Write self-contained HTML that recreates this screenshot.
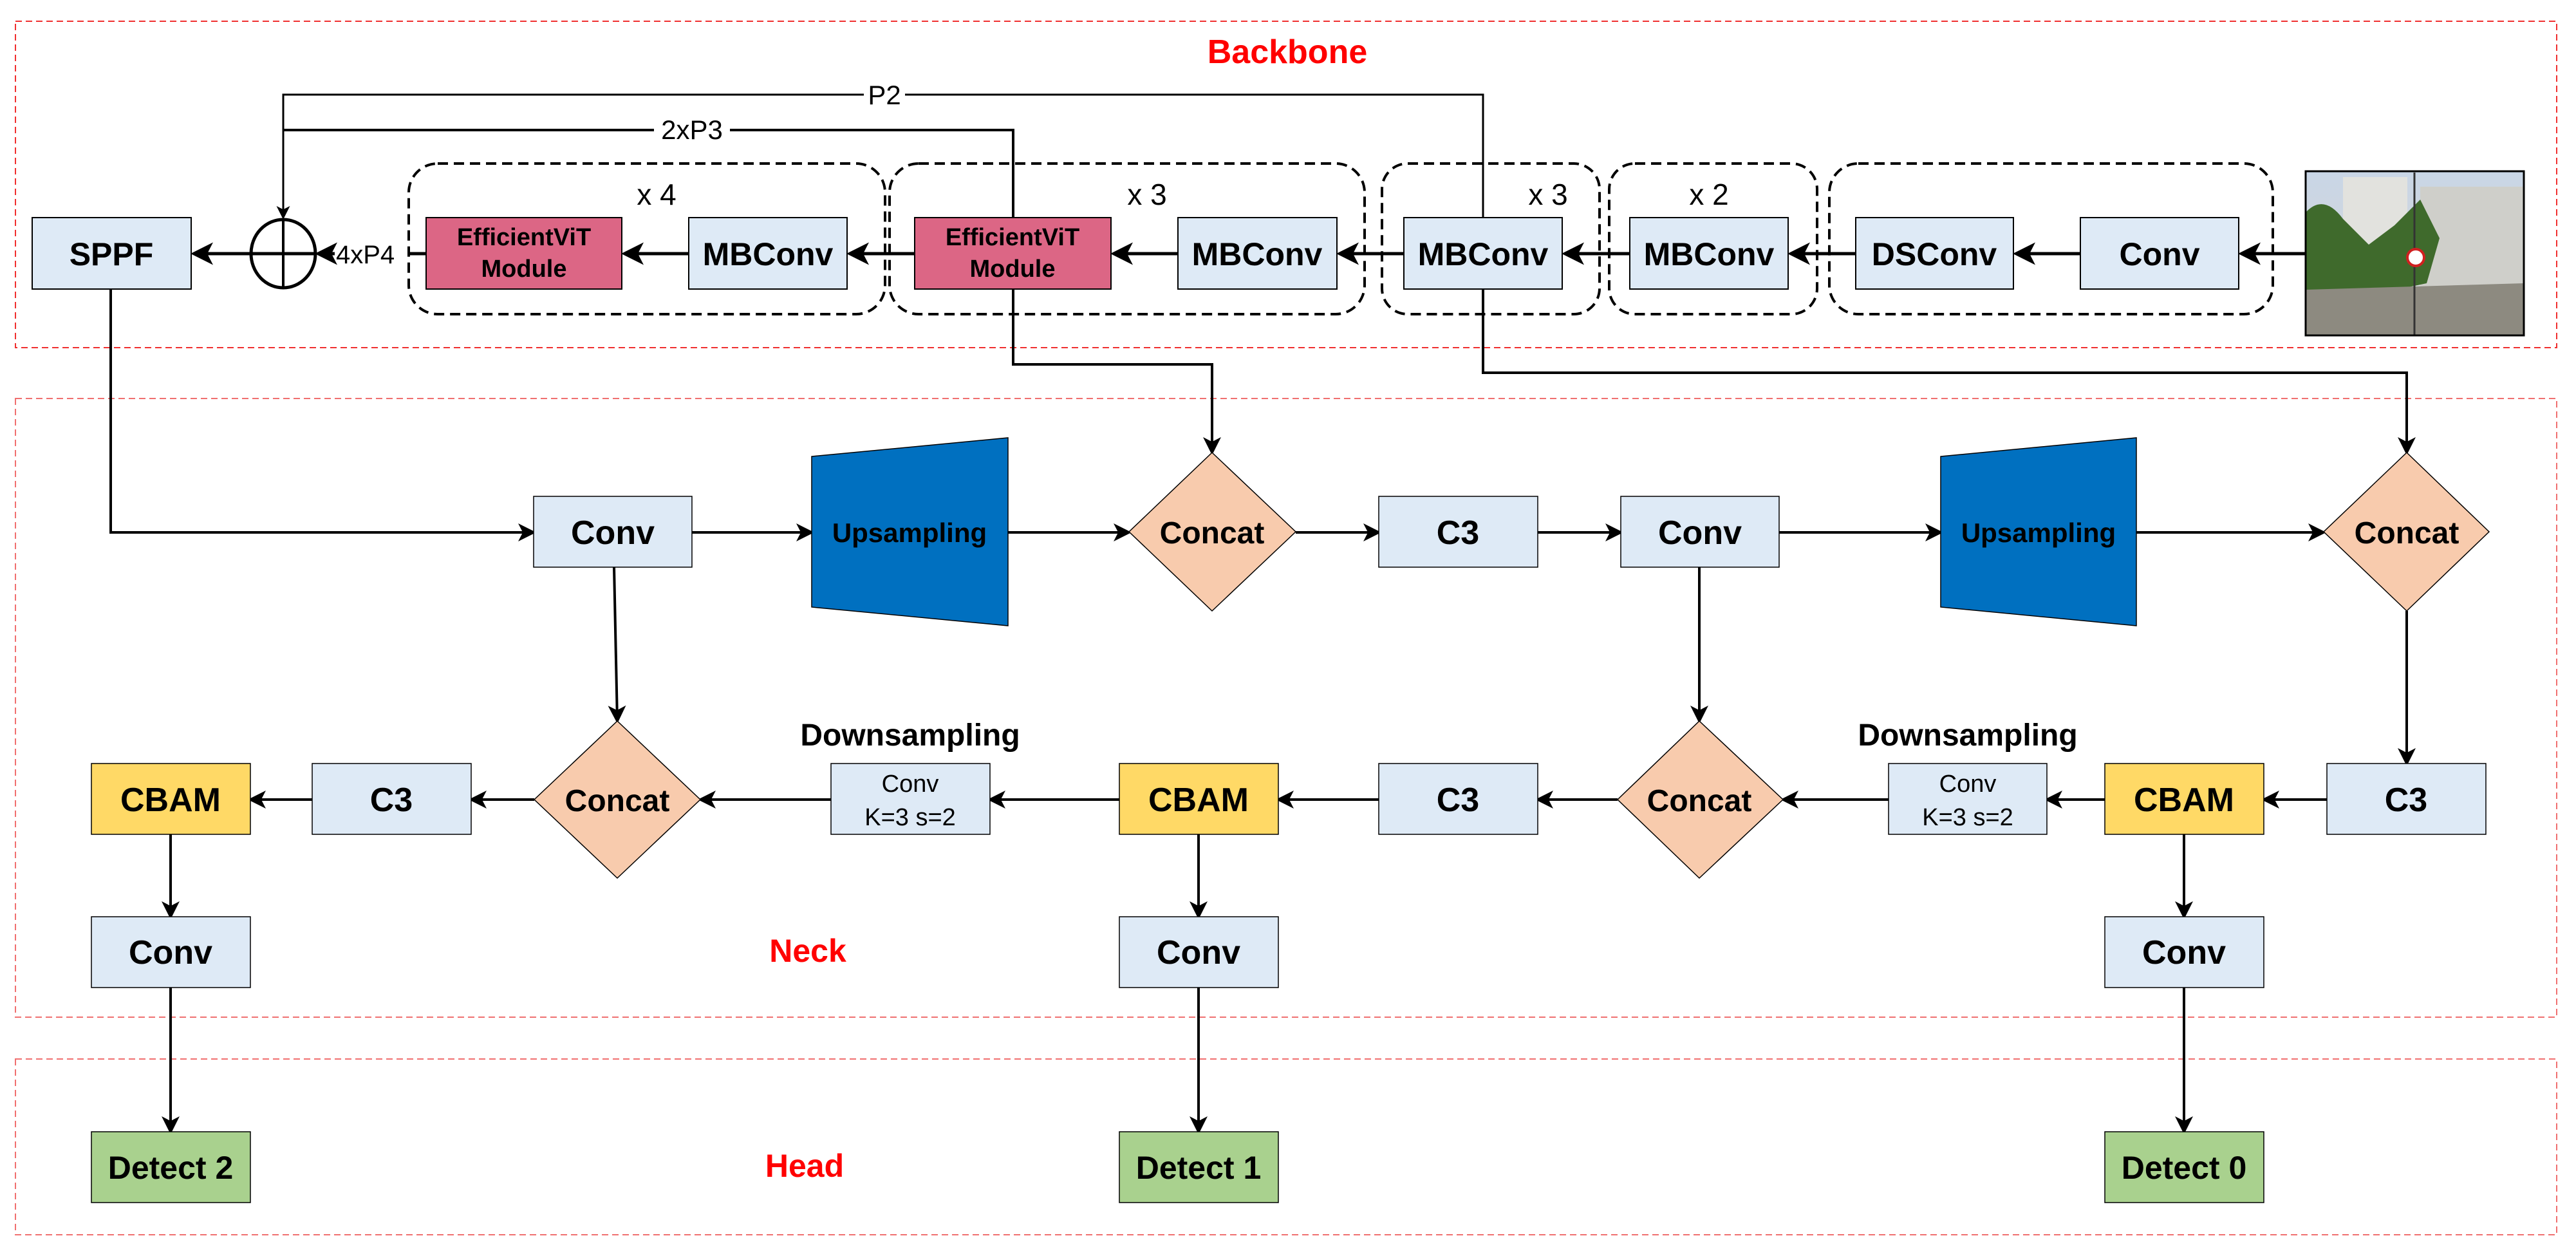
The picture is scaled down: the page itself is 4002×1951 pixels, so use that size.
<!DOCTYPE html>
<html><head><meta charset="utf-8"><style>
html,body{margin:0;padding:0;background:#fff;}
svg{display:block;}
text{font-family:"Liberation Sans",sans-serif;}
.b{font-weight:bold;}
</style></head><body>
<svg width="4002" height="1951" viewBox="0 0 4002 1951" xmlns="http://www.w3.org/2000/svg">
<defs>
<marker id="a" markerWidth="7" markerHeight="7" refX="6" refY="3.5" orient="auto" markerUnits="strokeWidth">
<path d="M0,0 L7,3.5 L0,7 L1.8,3.5 Z" fill="#000"/>
</marker>
<linearGradient id="sky" x1="0" y1="0" x2="0" y2="1"><stop offset="0" stop-color="#c9d6e6"/><stop offset="1" stop-color="#d8d8d4"/></linearGradient>
</defs>

<rect x="24" y="33" width="3948" height="507" fill="none" stroke="#f03030" stroke-width="2" stroke-dasharray="10,6"/>
<rect x="24" y="619" width="3948" height="961" fill="none" stroke="#f07070" stroke-width="2" stroke-dasharray="10,6"/>
<rect x="24" y="1645" width="3948" height="273" fill="none" stroke="#f07070" stroke-width="2" stroke-dasharray="10,6"/>
<text x="2000" y="98" font-size="52" fill="#ff0000" class="b" text-anchor="middle">Backbone</text>
<text x="1255" y="1494" font-size="50" fill="#ff0000" class="b" text-anchor="middle">Neck</text>
<text x="1250" y="1828" font-size="50" fill="#ff0000" class="b" text-anchor="middle">Head</text>

<g fill="none" stroke="#000" stroke-width="4" stroke-dasharray="16,9">
<rect x="635" y="254" width="740" height="234" rx="45"/>
<rect x="1382" y="254" width="738" height="234" rx="45"/>
<rect x="2147" y="254" width="338" height="234" rx="40"/>
<rect x="2500" y="254" width="323" height="234" rx="40"/>
<rect x="2842" y="254" width="689" height="234" rx="45"/>
</g>
<text x="1020" y="318" font-size="46" text-anchor="middle">x 4</text>
<text x="1782" y="318" font-size="46" text-anchor="middle">x 3</text>
<text x="2405" y="318" font-size="46" text-anchor="middle">x 3</text>
<text x="2655" y="318" font-size="46" text-anchor="middle">x 2</text>

<g fill="none" stroke="#000" stroke-width="4">
<polyline points="2304,338 2304,147 440,147 440,338" marker-end="url(#a)" stroke-width="3"/>
<polyline points="1574,338 1574,202 440,202"/>
<line x1="3582" y1="394" x2="3482" y2="394" stroke-width="5" marker-end="url(#a)"/>
<line x1="3232" y1="394" x2="3132" y2="394" stroke-width="5" marker-end="url(#a)"/>
<line x1="2883" y1="394" x2="2782" y2="394" stroke-width="5" marker-end="url(#a)"/>
<line x1="2532" y1="394" x2="2431" y2="394" stroke-width="5" marker-end="url(#a)"/>
<line x1="2181" y1="394" x2="2081" y2="394" stroke-width="5" marker-end="url(#a)"/>
<line x1="1830" y1="394" x2="1730" y2="394" stroke-width="5" marker-end="url(#a)"/>
<line x1="1421" y1="394" x2="1320" y2="394" stroke-width="5" marker-end="url(#a)"/>
<line x1="1070" y1="394" x2="970" y2="394" stroke-width="5" marker-end="url(#a)"/>
<line x1="662" y1="394" x2="636" y2="394" stroke-width="5"/>
<line x1="520" y1="394" x2="494" y2="394" stroke-width="5" marker-end="url(#a)"/>
<line x1="440" y1="394" x2="301" y2="394" stroke-width="5" marker-end="url(#a)"/>
<polyline points="1574,449 1574,566 1883,566 1883,703" marker-end="url(#a)"/>
<polyline points="2304,449 2304,579 3739,579 3739,703" marker-end="url(#a)"/>
<polyline points="172,449 172,827 829,827" marker-end="url(#a)"/>
</g>
<rect x="1342" y="130" width="64" height="34" fill="#fff"/>
<text x="1374" y="162" font-size="42" text-anchor="middle">P2</text>
<rect x="1016" y="184" width="118" height="34" fill="#fff"/>
<text x="1075" y="216" font-size="42" text-anchor="middle">2xP3</text>
<text x="522" y="409" font-size="40">4xP4</text>
<ellipse cx="440" cy="394" rx="50" ry="53" fill="#fff" stroke="#000" stroke-width="5"/>
<line x1="390" y1="394" x2="490" y2="394" stroke="#000" stroke-width="5"/>
<line x1="440" y1="341" x2="440" y2="447" stroke="#000" stroke-width="4"/>

<g stroke="#000" stroke-width="2">
<rect x="50" y="338" width="247" height="111" fill="#deeaf6"/>
<rect x="662" y="338" width="304" height="111" fill="#dc6685"/>
<rect x="1070" y="338" width="246" height="111" fill="#deeaf6"/>
<rect x="1421" y="338" width="305" height="111" fill="#dc6685"/>
<rect x="1830" y="338" width="247" height="111" fill="#deeaf6"/>
<rect x="2181" y="338" width="246" height="111" fill="#deeaf6"/>
<rect x="2532" y="338" width="246" height="111" fill="#deeaf6"/>
<rect x="2883" y="338" width="245" height="111" fill="#deeaf6"/>
<rect x="3232" y="338" width="246" height="111" fill="#deeaf6"/>
</g>
<g class="b" font-size="50" text-anchor="middle">
<text x="173" y="412" class="b">SPPF</text>
<text x="1193" y="412" class="b">MBConv</text>
<text x="1953" y="412" class="b">MBConv</text>
<text x="2304" y="412" class="b">MBConv</text>
<text x="2655" y="412" class="b">MBConv</text>
<text x="3005" y="412" class="b">DSConv</text>
<text x="3355" y="412" class="b">Conv</text>
<text x="814" y="381" font-size="38" class="b">EfficientViT</text>
<text x="814" y="430" font-size="38" class="b">Module</text>
<text x="1573" y="381" font-size="38" class="b">EfficientViT</text>
<text x="1573" y="430" font-size="38" class="b">Module</text>
</g>

<g>
<rect x="3582" y="266" width="339" height="255" fill="url(#sky)"/>
<rect x="3640" y="275" width="100" height="120" fill="#e2e2de"/>
<rect x="3760" y="290" width="160" height="200" fill="#cfcfca"/>
<path d="M3582,330 Q3610,300 3640,340 L3680,380 L3720,350 L3760,310 L3790,370 L3770,440 L3582,480 Z" fill="#3f6a2c"/>
<path d="M3582,450 L3921,440 L3921,521 L3582,521 Z" fill="#8d8a80"/>
<line x1="3751" y1="268" x2="3751" y2="521" stroke="#333" stroke-width="3"/>
<circle cx="3753" cy="400" r="13" fill="#fff" stroke="#d02020" stroke-width="4"/>
<rect x="3582" y="266" width="339" height="255" fill="none" stroke="#000" stroke-width="3"/>
</g>

<g fill="none" stroke="#000" stroke-width="4">
<line x1="1075" y1="827" x2="1261" y2="827" marker-end="url(#a)"/>
<line x1="1566" y1="827" x2="1754" y2="827" marker-end="url(#a)"/>
<line x1="2013" y1="827" x2="2142" y2="827" marker-end="url(#a)"/>
<line x1="2389" y1="827" x2="2518" y2="827" marker-end="url(#a)"/>
<line x1="2764" y1="827" x2="3015" y2="827" marker-end="url(#a)"/>
<line x1="3319" y1="827" x2="3610" y2="827" marker-end="url(#a)"/>
<line x1="954" y1="881" x2="959" y2="1120" marker-end="url(#a)"/>
<line x1="2640" y1="881" x2="2640" y2="1120" marker-end="url(#a)"/>
<line x1="3739" y1="949" x2="3739" y2="1186" marker-end="url(#a)"/>
<line x1="3615" y1="1242" x2="3517" y2="1242" marker-end="url(#a)"/>
<line x1="3270" y1="1242" x2="3180" y2="1242" marker-end="url(#a)"/>
<line x1="2934" y1="1242" x2="2770" y2="1242" marker-end="url(#a)"/>
<line x1="2513" y1="1242" x2="2389" y2="1242" marker-end="url(#a)"/>
<line x1="2142" y1="1242" x2="1986" y2="1242" marker-end="url(#a)"/>
<line x1="1739" y1="1242" x2="1538" y2="1242" marker-end="url(#a)"/>
<line x1="1291" y1="1242" x2="1088" y2="1242" marker-end="url(#a)"/>
<line x1="830" y1="1242" x2="732" y2="1242" marker-end="url(#a)"/>
<line x1="485" y1="1242" x2="389" y2="1242" marker-end="url(#a)"/>
<line x1="265" y1="1296" x2="265" y2="1424" marker-end="url(#a)"/>
<line x1="1862" y1="1296" x2="1862" y2="1424" marker-end="url(#a)"/>
<line x1="3393" y1="1296" x2="3393" y2="1424" marker-end="url(#a)"/>
<line x1="265" y1="1534" x2="265" y2="1758" marker-end="url(#a)"/>
<line x1="1862" y1="1534" x2="1862" y2="1758" marker-end="url(#a)"/>
<line x1="3393" y1="1534" x2="3393" y2="1758" marker-end="url(#a)"/>
</g>

<g stroke="#000" stroke-width="1.5">
<polygon points="1261,709 1566,680 1566,972 1261,943" fill="#0070c0"/>
<polygon points="3015,709 3319,680 3319,972 3015,943" fill="#0070c0"/>
<polygon points="1883,703 2013,826 1883,949 1754,826" fill="#f8cbad"/>
<polygon points="3739,703 3867,826 3739,949 3610,826" fill="#f8cbad"/>
<polygon points="959,1120 1088,1242 959,1364 830,1242" fill="#f8cbad"/>
<polygon points="2640,1120 2770,1242 2640,1364 2513,1242" fill="#f8cbad"/>
<rect x="829" y="771" width="246" height="110" fill="#deeaf6"/>
<rect x="2142" y="771" width="247" height="110" fill="#deeaf6"/>
<rect x="2518" y="771" width="246" height="110" fill="#deeaf6"/>
<rect x="142" y="1186" width="247" height="110" fill="#ffd966"/>
<rect x="485" y="1186" width="247" height="110" fill="#deeaf6"/>
<rect x="1291" y="1186" width="247" height="110" fill="#deeaf6"/>
<rect x="1739" y="1186" width="247" height="110" fill="#ffd966"/>
<rect x="2142" y="1186" width="247" height="110" fill="#deeaf6"/>
<rect x="2934" y="1186" width="246" height="110" fill="#deeaf6"/>
<rect x="3270" y="1186" width="247" height="110" fill="#ffd966"/>
<rect x="3615" y="1186" width="247" height="110" fill="#deeaf6"/>
<rect x="142" y="1424" width="247" height="110" fill="#deeaf6"/>
<rect x="1739" y="1424" width="247" height="110" fill="#deeaf6"/>
<rect x="3270" y="1424" width="247" height="110" fill="#deeaf6"/>
<rect x="142" y="1758" width="247" height="110" fill="#a9d18e"/>
<rect x="1739" y="1758" width="247" height="110" fill="#a9d18e"/>
<rect x="3270" y="1758" width="247" height="110" fill="#a9d18e"/>
</g>
<g class="b" font-size="52" text-anchor="middle">
<text x="952" y="845" class="b">Conv</text>
<text x="2265" y="845" class="b">C3</text>
<text x="2641" y="845" class="b">Conv</text>
<text x="1413" y="842" font-size="42" class="b">Upsampling</text>
<text x="3167" y="842" font-size="42" class="b">Upsampling</text>
<text x="1883" y="844" font-size="48" class="b">Concat</text>
<text x="3739" y="844" font-size="48" class="b">Concat</text>
<text x="959" y="1260" font-size="48" class="b">Concat</text>
<text x="2640" y="1260" font-size="48" class="b">Concat</text>
<text x="265" y="1260" class="b">CBAM</text>
<text x="608" y="1260" class="b">C3</text>
<text x="1862" y="1260" class="b">CBAM</text>
<text x="2265" y="1260" class="b">C3</text>
<text x="3393" y="1260" class="b">CBAM</text>
<text x="3738" y="1260" class="b">C3</text>
<text x="1414" y="1230" font-size="38" font-weight="normal">Conv</text>
<text x="1414" y="1282" font-size="38" font-weight="normal">K=3 s=2</text>
<text x="3057" y="1230" font-size="38" font-weight="normal">Conv</text>
<text x="3057" y="1282" font-size="38" font-weight="normal">K=3 s=2</text>
<text x="1414" y="1158" font-size="48" class="b">Downsampling</text>
<text x="3057" y="1158" font-size="48" class="b">Downsampling</text>
<text x="265" y="1497" class="b">Conv</text>
<text x="1862" y="1497" class="b">Conv</text>
<text x="3393" y="1497" class="b">Conv</text>
<text x="265" y="1831" font-size="50" class="b">Detect 2</text>
<text x="1862" y="1831" font-size="50" class="b">Detect 1</text>
<text x="3393" y="1831" font-size="50" class="b">Detect 0</text>
</g>
</svg>
</body></html>
